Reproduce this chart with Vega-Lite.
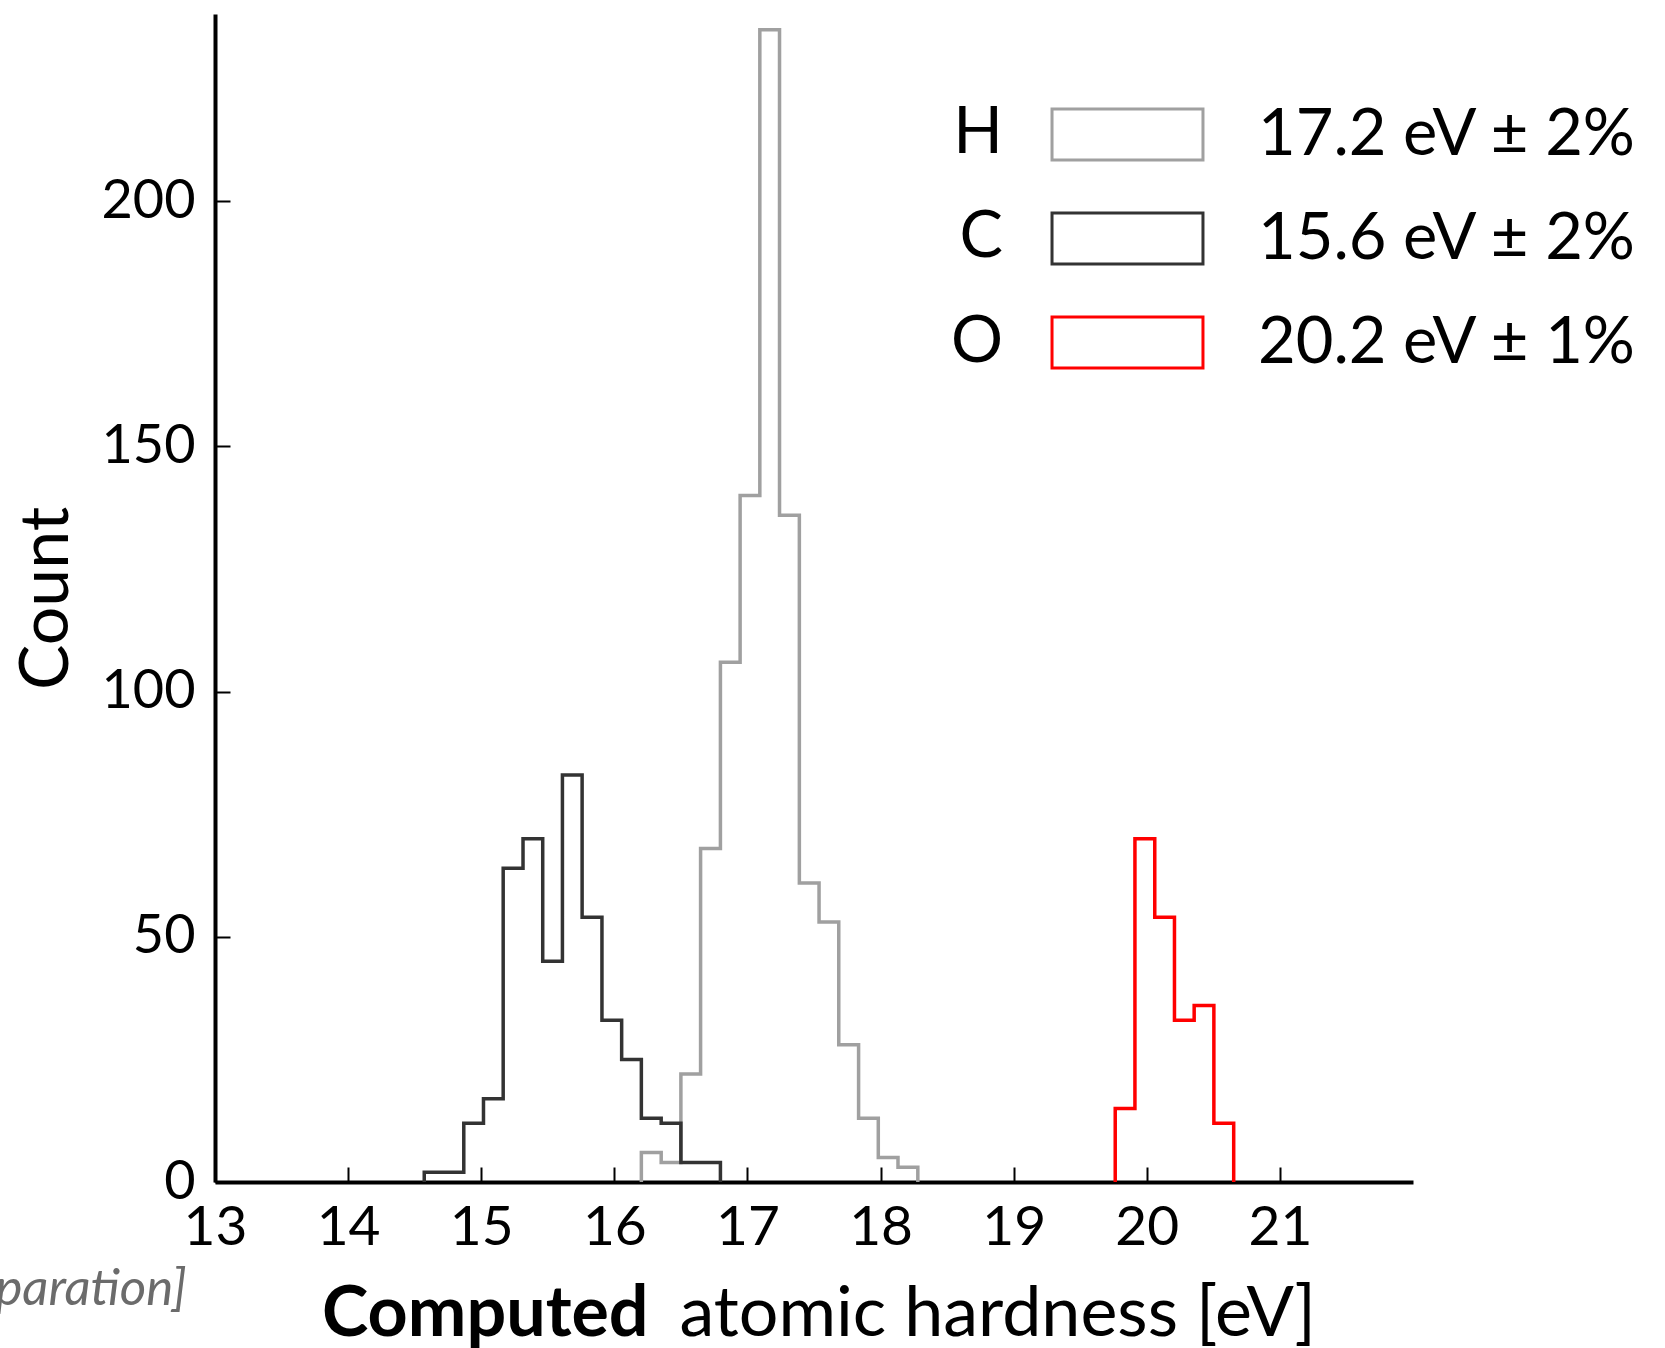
{
  "$schema": "https://vega.github.io/schema/vega-lite/v6.json",
  "width": 1198,
  "height": 1168,
  "autosize": {"type": "none"},
  "padding": {"left": 215, "top": 14, "right": 252, "bottom": 166},
  "background": "white",
  "config": {"view": {"stroke": null}, "font": "Lato"},
  "title": {
    "text": "Computed",
    "orient": "bottom",
    "anchor": "start",
    "frame": "group",
    "offset": 0,
    "dx": 107,
    "dy": -13,
    "font": "Lato",
    "fontSize": 70,
    "fontWeight": "bold",
    "color": "black",
    "baseline": "alphabetic"
  },
  "layer": [
    {
      "data": {
        "values": [
          {"el": "H", "i": 0, "x": 16.203, "count": 0},
          {"el": "H", "i": 1, "x": 16.203, "count": 6},
          {"el": "H", "i": 2, "x": 16.352, "count": 4},
          {"el": "H", "i": 3, "x": 16.500, "count": 22},
          {"el": "H", "i": 4, "x": 16.648, "count": 68},
          {"el": "H", "i": 5, "x": 16.797, "count": 106},
          {"el": "H", "i": 6, "x": 16.945, "count": 140},
          {"el": "H", "i": 7, "x": 17.093, "count": 235},
          {"el": "H", "i": 8, "x": 17.241, "count": 136},
          {"el": "H", "i": 9, "x": 17.390, "count": 61},
          {"el": "H", "i": 10, "x": 17.538, "count": 53},
          {"el": "H", "i": 11, "x": 17.686, "count": 28},
          {"el": "H", "i": 12, "x": 17.835, "count": 13},
          {"el": "H", "i": 13, "x": 17.983, "count": 5},
          {"el": "H", "i": 14, "x": 18.131, "count": 3},
          {"el": "H", "i": 15, "x": 18.280, "count": 0},
          {"el": "C", "i": 0, "x": 14.572, "count": 0},
          {"el": "C", "i": 1, "x": 14.572, "count": 2},
          {"el": "C", "i": 2, "x": 14.720, "count": 2},
          {"el": "C", "i": 3, "x": 14.869, "count": 12},
          {"el": "C", "i": 4, "x": 15.017, "count": 17},
          {"el": "C", "i": 5, "x": 15.165, "count": 64},
          {"el": "C", "i": 6, "x": 15.314, "count": 70},
          {"el": "C", "i": 7, "x": 15.462, "count": 45},
          {"el": "C", "i": 8, "x": 15.610, "count": 83},
          {"el": "C", "i": 9, "x": 15.758, "count": 54},
          {"el": "C", "i": 10, "x": 15.907, "count": 33},
          {"el": "C", "i": 11, "x": 16.055, "count": 25},
          {"el": "C", "i": 12, "x": 16.203, "count": 13},
          {"el": "C", "i": 13, "x": 16.352, "count": 12},
          {"el": "C", "i": 14, "x": 16.500, "count": 4},
          {"el": "C", "i": 15, "x": 16.648, "count": 4},
          {"el": "C", "i": 16, "x": 16.797, "count": 0},
          {"el": "O", "i": 0, "x": 19.763, "count": 0},
          {"el": "O", "i": 1, "x": 19.763, "count": 15},
          {"el": "O", "i": 2, "x": 19.911, "count": 70},
          {"el": "O", "i": 3, "x": 20.060, "count": 54},
          {"el": "O", "i": 4, "x": 20.208, "count": 33},
          {"el": "O", "i": 5, "x": 20.356, "count": 36},
          {"el": "O", "i": 6, "x": 20.504, "count": 12},
          {"el": "O", "i": 7, "x": 20.653, "count": 0}
        ]
      },
      "mark": {"type": "line", "interpolate": "step-after", "strokeWidth": 3.5, "strokeJoin": "miter"},
      "encoding": {
        "x": {
          "field": "x",
          "type": "quantitative",
          "scale": {"domain": [13, 22], "nice": false, "zero": false},
          "axis": {
            "values": [13, 14, 15, 16, 17, 18, 19, 20, 21],
            "format": "d",
            "grid": false,
            "domainColor": "black",
            "domainWidth": 4,
            "tickColor": "black",
            "tickWidth": 2,
            "tickSize": -15,
            "labelFont": "Lato",
            "labelFontSize": 55,
            "labelColor": "black",
            "labelPadding": 34,
            "labelFlush": false,
            "labelOverlap": false,
            "title": "atomic hardness [eV]",
            "titleFont": "Lato",
            "titleFontSize": 70,
            "titleFontWeight": "normal",
            "titleColor": "black",
            "titleAlign": "left",
            "titleBaseline": "alphabetic",
            "titleX": 464,
            "titleY": 153
          }
        },
        "y": {
          "field": "count",
          "type": "quantitative",
          "scale": {"domain": [0, 238.2], "nice": false},
          "axis": {
            "values": [0, 50, 100, 150, 200],
            "grid": false,
            "domainColor": "black",
            "domainWidth": 4,
            "tickColor": "black",
            "tickWidth": 2,
            "tickSize": -15,
            "labelFont": "Lato",
            "labelFontSize": 54,
            "labelColor": "black",
            "labelPadding": 35,
            "labelFlush": false,
            "labelOverlap": false,
            "title": "Count",
            "titleFont": "Lato",
            "titleFontSize": 68,
            "titleFontWeight": "normal",
            "titleColor": "black",
            "titleAngle": 270,
            "titleAlign": "center",
            "titleBaseline": "alphabetic",
            "titleX": -148,
            "titleY": 584
          }
        },
        "color": {
          "field": "el",
          "type": "nominal",
          "scale": {"domain": ["H", "C", "O"], "range": ["#a0a0a0", "#333333", "#ff0000"]},
          "legend": {
            "orient": "none",
            "legendX": 736,
            "legendY": 68,
            "direction": "vertical",
            "title": ["H", "C", "O"],
            "titleOrient": "left",
            "titleAnchor": "start",
            "titleAlign": "right",
            "titleBaseline": "line-top",
            "titleLineHeight": 104.3,
            "titleFont": "Lato",
            "titleFontSize": 65,
            "titleFontWeight": "normal",
            "titleColor": "black",
            "titlePadding": 19,
            "symbolType": "M-1.48,-0.5H1.48V0.5H-1.48Z",
            "symbolSize": 10404,
            "symbolStrokeWidth": 3,
            "symbolFillColor": "white",
            "symbolOffset": 0,
            "labelFont": "Lato",
            "labelFontSize": 65,
            "labelColor": "black",
            "labelOffset": 78,
            "labelLimit": 0,
            "rowPadding": 18,
            "labelExpr": "datum.label === 'H' ? '17.2 eV ± 2%' : datum.label === 'C' ? '15.6 eV ± 2%' : '20.2 eV ± 1%'"
          }
        },
        "order": {"field": "i", "type": "quantitative"}
      }
    },
    {
      "data": {"values": [{"note": "paration]"}]},
      "mark": {"type": "text", "align": "right", "baseline": "alphabetic", "font": "Lato", "fontStyle": "italic", "fontSize": 51, "color": "#6b6b6b"},
      "encoding": {
        "x": {"datum": 12.788, "type": "quantitative"},
        "y": {"datum": -25, "type": "quantitative"},
        "text": {"field": "note", "type": "nominal"}
      }
    }
  ]
}
